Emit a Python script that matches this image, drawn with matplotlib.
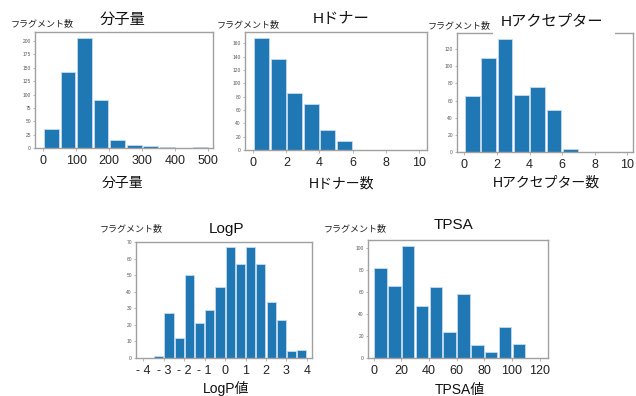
import numpy as np
import matplotlib
matplotlib.use('Agg')
import matplotlib.pyplot as plt
from matplotlib.patches import Rectangle

plt.rcParams['font.family'] = ['Liberation Sans', 'Noto Sans CJK JP', 'DejaVu Sans']

# histogram counts per bin
mw_edges = np.arange(0, 501, 50)
mw_counts = [36, 143, 206, 89, 15, 6, 3, 1, 0, 1]

hbd_edges = np.arange(0, 11, 1)
hbd_counts = [168, 137, 85, 69, 30, 14, 0, 0, 0, 0]

hba_edges = np.arange(0, 11, 1)
hba_counts = [65, 109, 132, 66, 76, 49, 3, 0, 0, 0]

logp_edges = np.arange(-4, 4.01, 0.5)
logp_counts = [0, 1, 27, 12, 50, 21, 29, 43, 67, 57, 67, 57, 34, 23, 4, 5]
logp_ticks = [-4, -3, -2, -1, 0, 1, 2, 3, 4]
logp_ticklabels = ['- 4', '- 3', '- 2', '- 1', '0', '1', '2', '3', '4']

tpsa_edges = np.arange(0, 121, 10)
tpsa_counts = [82, 65, 102, 47, 64, 24, 58, 12, 5, 28, 13, 0]

W, H = 636, 396
fig = plt.figure(figsize=(W / 100, H / 100), dpi=100)


def px_axes(left, top, right, bottom):
    return fig.add_axes([left / W, 1 - bottom / H, (right - left) / W, (bottom - top) / H])


def px_text(x, y, s, size, **kw):
    return fig.text(x / W, 1 - y / H, s, fontsize=size, ha='center', va='center', **kw)


def draw_hist(ax, edges, counts, xlim, ymax, ystep, xticks, xticklabels=None):
    centers = (np.asarray(edges[:-1]) + np.asarray(edges[1:])) / 2
    ax.hist(centers, bins=edges, weights=counts, rwidth=0.9,
            color='#1f77b4', edgecolor='#c6dbef', linewidth=0.6)
    ax.set_xlim(*xlim)
    ax.set_ylim(0, ymax)
    ax.set_yticks(np.arange(0, ymax + 0.1, ystep))
    ax.set_xticks(xticks)
    if xticklabels is not None:
        ax.set_xticklabels(xticklabels)
    ax.tick_params(axis='y', labelsize=3.5, labelcolor='#555555', length=1.5,
                   width=0.5, color='#999999', pad=1.5)
    ax.tick_params(axis='x', labelsize=9, labelcolor='#222222', length=2,
                   width=0.5, color='#999999', pad=3)
    for sp in ax.spines.values():
        sp.set_color('#a0a0a0')
        sp.set_linewidth(1.0)


ax1 = px_axes(35, 32, 213, 148)
draw_hist(ax1, mw_edges, mw_counts, (-25, 514), 217, 25, [0, 100, 200, 300, 400, 500])

ax2 = px_axes(245, 32, 427, 150)
draw_hist(ax2, hbd_edges, hbd_counts, (-0.5, 10.5), 177, 20, [0, 2, 4, 6, 8, 10])

ax3 = px_axes(457, 33, 633, 152)
draw_hist(ax3, hba_edges, hba_counts, (-0.45, 10.35), 138.7, 20, [0, 2, 4, 6, 8, 10])

ax4 = px_axes(136, 242, 312, 358)
draw_hist(ax4, logp_edges, logp_counts, (-4.36, 4.25), 70, 10, logp_ticks, logp_ticklabels)

ax5 = px_axes(368, 240, 548, 358)
draw_hist(ax5, tpsa_edges, tpsa_counts, (-4, 126), 107, 20, [0, 20, 40, 60, 80, 100, 120])

# white block behind the third title
fig.patches.append(Rectangle((493 / W, 1 - 36 / H), 122 / W, 28 / H,
                             transform=fig.transFigure, facecolor='white',
                             edgecolor='none', zorder=5))

ylab = 'フラグメント数'
titles = [
    (42, 24, 123, 20, '分子量', 123, 183, '分子量'),
    (248, 25, 341, 19, 'Hドナー', 342, 184, 'Hドナー数'),
    (459, 26, 552, 21, 'Hアクセプター', 546, 183, 'Hアクセプター数'),
    (131, 229, 227, 229, 'LogP', 226, 388, 'LogP値'),
    (355, 229, 454, 225, 'TPSA', 460, 390, 'TPSA値'),
]
for yx, yy, tx, ty, title, lx, ly, xlab in titles:
    px_text(yx, yy, ylab, 6.5, color='#222222', zorder=6)
    px_text(tx, ty, title, 11, color='#111111', zorder=6)
    px_text(lx, ly, xlab, 10, color='#111111', zorder=6)

fig.savefig('out.png', dpi=100)
